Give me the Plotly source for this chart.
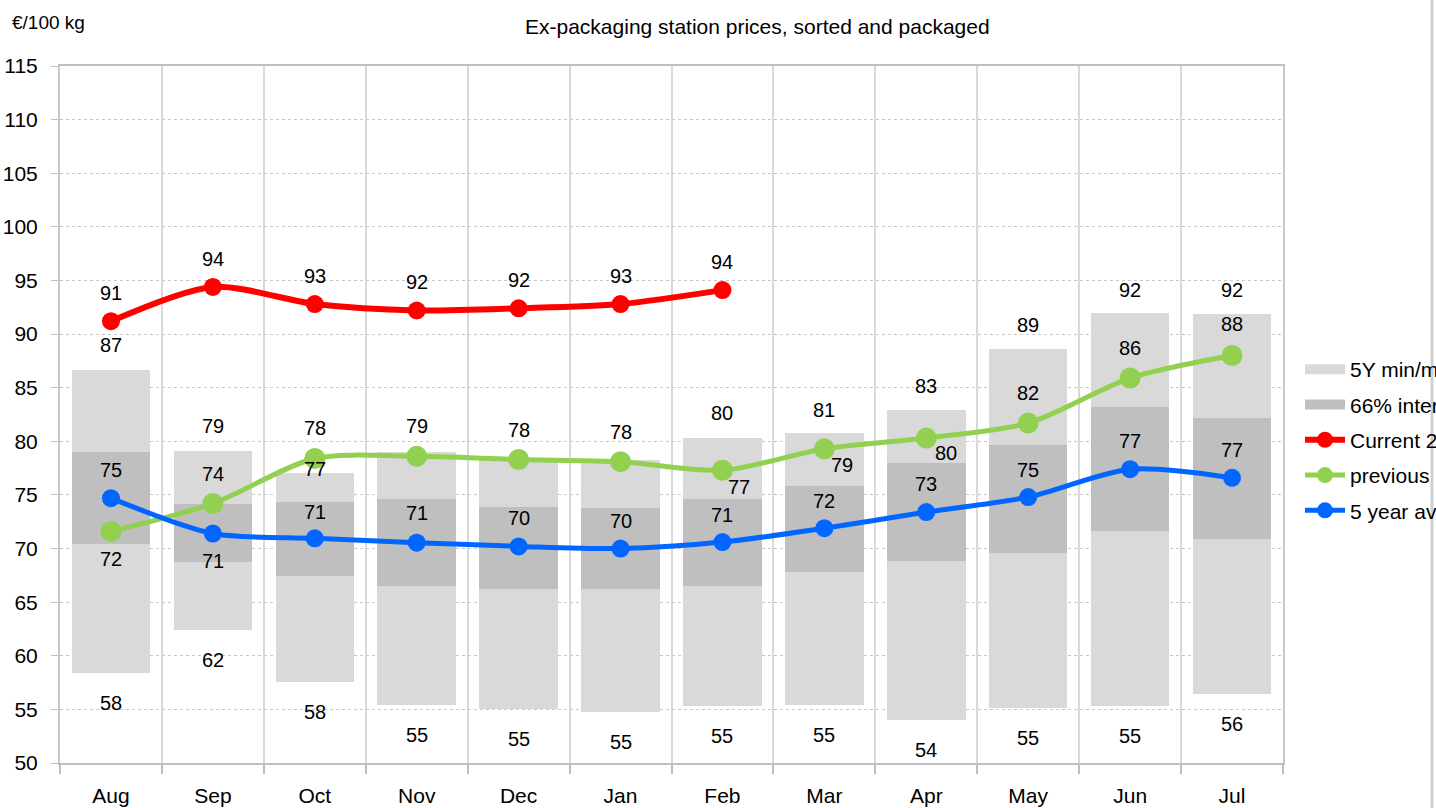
import plotly.graph_objects as go

# ---------------- data ----------------
months = ["Aug", "Sep", "Oct", "Nov", "Dec", "Jan", "Feb", "Mar", "Apr", "May", "Jun", "Jul"]
min_5y = [58.4, 62.4, 57.6, 55.4, 55.0, 54.8, 55.35, 55.4, 54.0, 55.1, 55.35, 56.4]
max_5y = [86.65, 79.1, 77.0, 79.0, 78.4, 78.3, 80.3, 80.8, 82.9, 88.6, 92.0, 91.9]
int66_low = [70.4, 68.7, 67.4, 66.5, 66.2, 66.2, 66.5, 67.85, 68.8, 69.6, 71.6, 70.9]
int66_high = [79.0, 74.2, 74.3, 74.6, 73.9, 73.75, 74.6, 75.8, 77.95, 79.7, 83.2, 82.2]
current = [91.2, 94.4, 92.8, 92.2, 92.4, 92.8, 94.1]
previous = [71.6, 74.2, 78.4, 78.6, 78.3, 78.1, 77.3, 79.3, 80.3, 81.7, 85.9, 88.0]
avg_5y = [74.7, 71.4, 70.95, 70.55, 70.2, 70.0, 70.6, 71.9, 73.4, 74.8, 77.4, 76.6]

names = ["5Y min/max", "66% interval", "Current 2023/24", "previous 2022/23", "5 year average"]

# ---------------- styles / label placement (pixels) ----------------
FONT = "Liberation Sans, Arial, sans-serif"
C_LIGHT = "#d9d9d9"
C_DARK = "#bfbfbf"
C_RED = "#ff0000"
C_GREEN = "#92d050"
C_BLUE = "#0066ff"
BAR_W = 0.77
red_lbl = [(0, 28)] * 7
green_lbl = [(0, -28), (0, 30), (0, 30), (0, 30), (0, 30), (0, 30),
             (17, -17), (18, -16), (20, -15), (0, 30), (0, 30), (0, 32)]
blue_lbl = [(0, 28), (0, -27), (0, 26), (0, 30), (0, 28), (0, 28),
            (0, 27), (0, 27), (0, 28), (0, 27), (0, 28), (0, 28)]
max_lbl = [25, 25, 4, None, None, None, 25, 23, 24, 24, 23, 24]
min_lbl = [-30] * 12

xi = list(range(len(months)))

fig = go.Figure()

# 5Y min/max band
fig.add_trace(go.Bar(
    x=xi, y=[hi - lo for hi, lo in zip(max_5y, min_5y)], base=min_5y,
    width=BAR_W, marker=dict(color=C_LIGHT, line=dict(width=0)),
    showlegend=False, hoverinfo="skip"))
# 66% interval band
fig.add_trace(go.Bar(
    x=xi, y=[hi - lo for hi, lo in zip(int66_high, int66_low)], base=int66_low,
    width=BAR_W, marker=dict(color=C_DARK, line=dict(width=0)),
    showlegend=False, hoverinfo="skip"))

# legend entries for the bands
fig.add_trace(go.Scatter(x=[None], y=[None], mode="lines", name=names[0],
                         line=dict(color=C_LIGHT, width=10), legendgroup="a"))
fig.add_trace(go.Scatter(x=[None], y=[None], mode="lines", name=names[1],
                         line=dict(color=C_DARK, width=10), legendgroup="b"))

# lines
fig.add_trace(go.Scatter(x=xi[:len(current)], y=current, mode="lines+markers", name=names[2],
                         line=dict(color=C_RED, width=6, shape="spline", smoothing=0.8),
                         marker=dict(color=C_RED, size=18), legendgroup="c"))
fig.add_trace(go.Scatter(x=xi, y=previous, mode="lines+markers", name=names[3],
                         line=dict(color=C_GREEN, width=5, shape="spline", smoothing=0.8),
                         marker=dict(color=C_GREEN, size=21), legendgroup="d"))
fig.add_trace(go.Scatter(x=xi, y=avg_5y, mode="lines+markers", name=names[4],
                         line=dict(color=C_BLUE, width=5, shape="spline", smoothing=0.8),
                         marker=dict(color=C_BLUE, size=18), legendgroup="e"))

anns = []


def lbl(x, y, dx, dy):
    anns.append(dict(x=x, y=y, xref="x", yref="y", text=f"{round(y):.0f}", showarrow=False,
                     xshift=dx, yshift=dy, font=dict(family=FONT, size=20, color="black")))


for i, v in enumerate(current):
    lbl(i, v, *red_lbl[i])
for i, v in enumerate(previous):
    lbl(i, v, *green_lbl[i])
for i, v in enumerate(avg_5y):
    lbl(i, v, *blue_lbl[i])
for i, v in enumerate(max_5y):
    if max_lbl[i] is not None:
        lbl(i, v, 0, max_lbl[i])
for i, v in enumerate(min_5y):
    lbl(i, v, 0, min_lbl[i])

anns.append(dict(x=0.5707, y=1.056, xref="paper", yref="paper", showarrow=False,
                 text="Ex-packaging station prices, sorted and packaged",
                 font=dict(family=FONT, size=21, color="black"), xanchor="center", yanchor="middle"))
anns.append(dict(x=-0.041, y=1.063, xref="paper", yref="paper", showarrow=False,
                 text="€/100 kg", font=dict(family=FONT, size=19, color="black"),
                 xanchor="left", yanchor="middle"))

fig.update_layout(
    width=1436, height=808,
    margin=dict(l=60, r=153, t=66, b=45, autoexpand=False),
    paper_bgcolor="white", plot_bgcolor="white",
    barmode="overlay", bargap=0,
    font=dict(family=FONT, size=20, color="black"),
    annotations=anns,
    showlegend=True,
    legend=dict(x=1.0139, xanchor="left", y=0.594, yanchor="top",
                font=dict(family=FONT, size=21, color="black"),
                bgcolor="rgba(0,0,0,0)", tracegroupgap=5, itemwidth=40),
    shapes=[dict(type="line", xref="paper", yref="paper", x0=1.1218, x1=1.1218, y0=-0.07, y1=1.1,
                 line=dict(color="#d0d0d0", width=3))],
)

fig.update_xaxes(
    range=[-0.5, 11.5], tickmode="array", tickvals=xi, ticktext=months,
    ticks="", showgrid=False, zeroline=False,
    showline=True, linecolor="#bfbfbf", linewidth=2, mirror=True,
    tickfont=dict(family=FONT, size=21, color="black"), ticklabelstandoff=13,
    minor=dict(tickmode="array", tickvals=[k - 0.5 for k in range(13)], showgrid=True,
               gridcolor="#d9d9d9", gridwidth=2, ticks="outside", ticklen=9,
               tickcolor="#bfbfbf", tickwidth=2),
)
fig.update_yaxes(
    range=[50, 115], tickmode="linear", tick0=50, dtick=5,
    showgrid=True, gridcolor="#c8c8c8", gridwidth=1, griddash="dot", zeroline=False,
    showline=True, linecolor="#c8c8c8", linewidth=2, mirror=True,
    ticks="outside", ticklen=7, tickcolor="#bfbfbf", tickwidth=1,
    tickfont=dict(family=FONT, size=21, color="black"), ticklabelstandoff=9,
)

# remove the default 8px page margin so the figure sits at the window's top-left corner
fig.write_html("out.html", config={"displayModeBar": False},
               post_script="document.body.style.margin='0';")
